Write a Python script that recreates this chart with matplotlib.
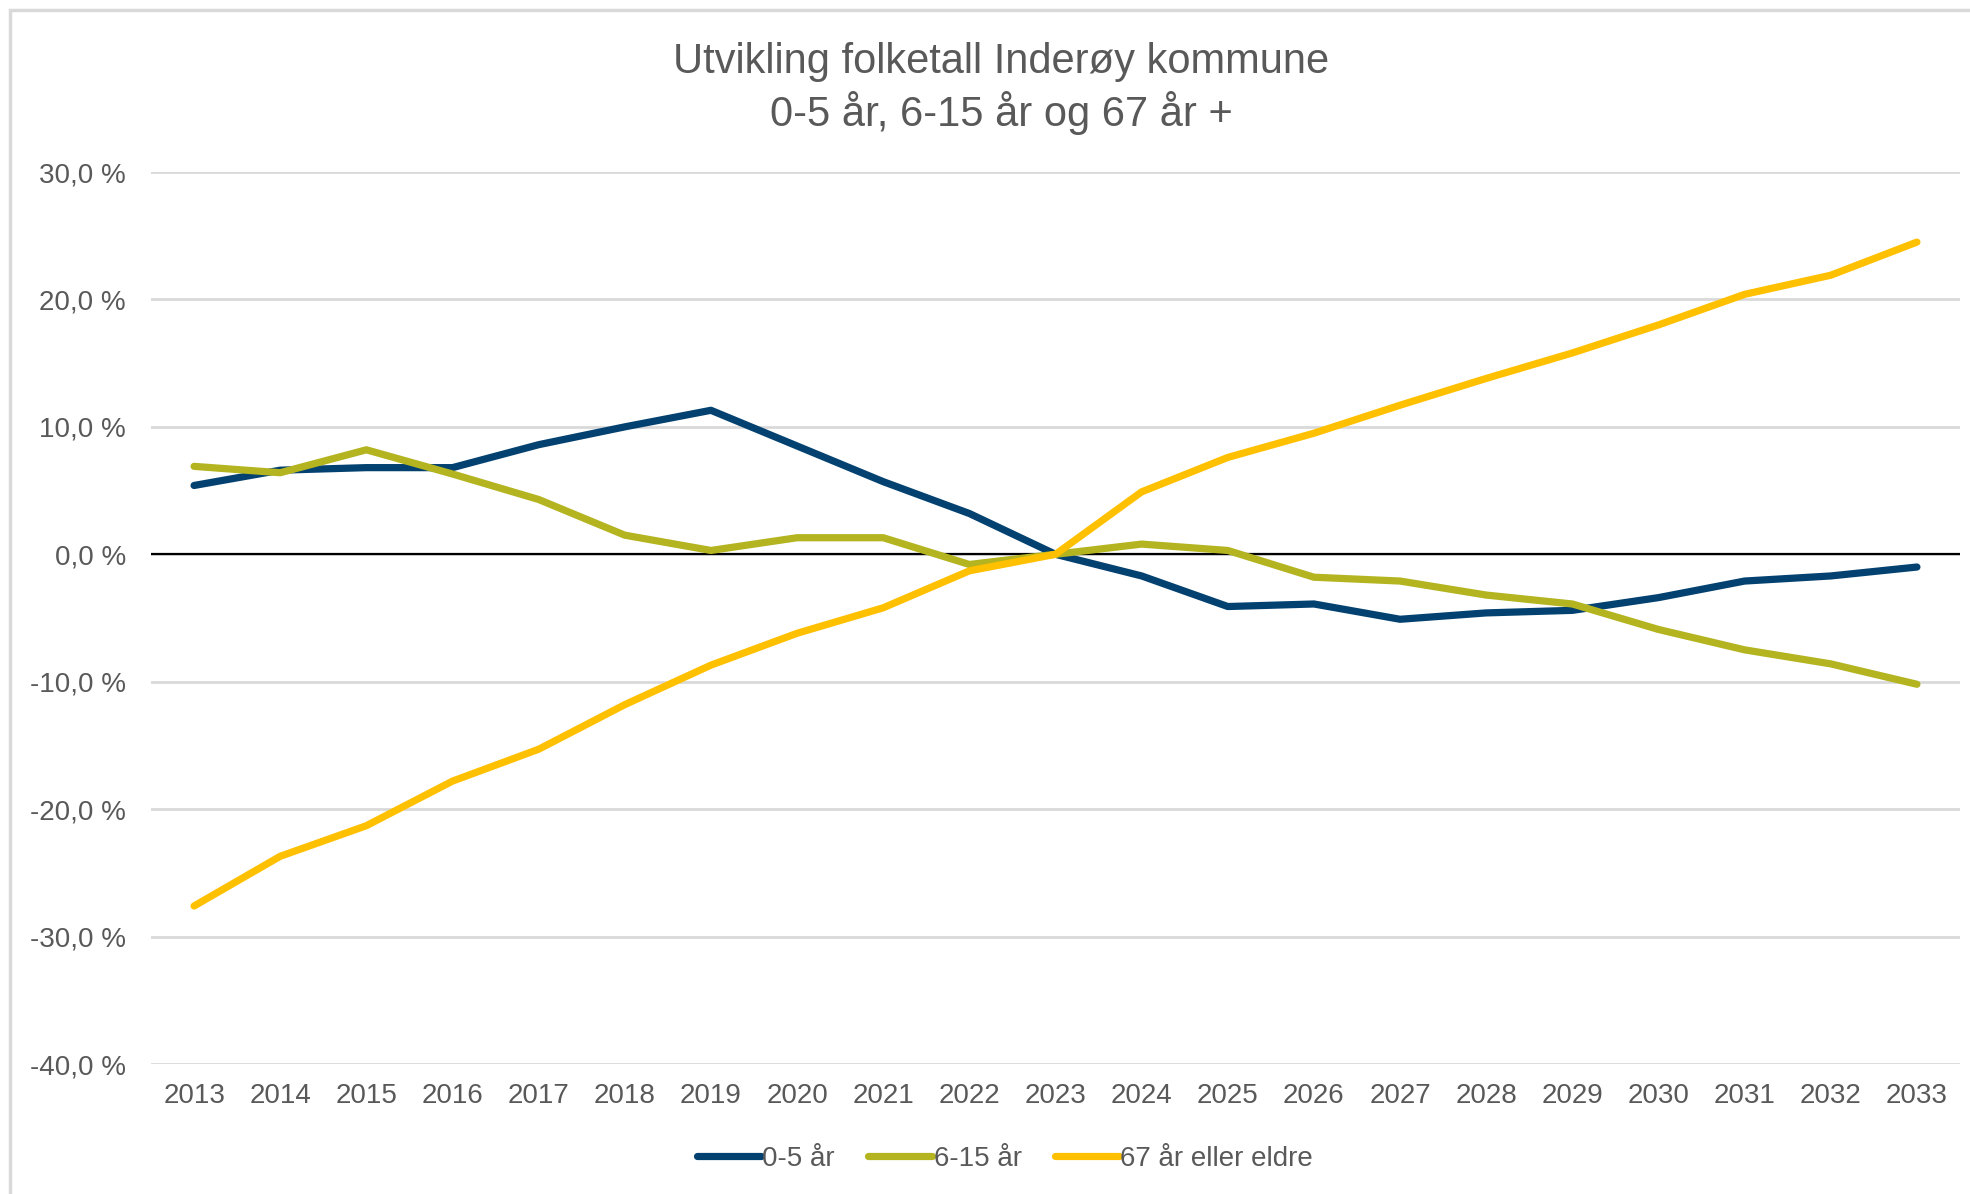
import matplotlib
matplotlib.use("Agg")
import matplotlib.pyplot as plt
from matplotlib.ticker import FuncFormatter
from matplotlib.patches import Rectangle

years = [str(y) for y in range(2013, 2034)]
barn_0_5 = [5.4, 6.6, 6.8, 6.8, 8.6, 10.0, 11.3, 8.5, 5.7, 3.2, 0.0,
            -1.7, -4.1, -3.9, -5.1, -4.6, -4.4, -3.4, -2.1, -1.7, -1.0]
barn_6_15 = [6.9, 6.4, 8.2, 6.3, 4.3, 1.5, 0.3, 1.3, 1.3, -0.8, 0.0,
             0.8, 0.3, -1.8, -2.1, -3.2, -3.9, -5.9, -7.5, -8.6, -10.2]
eldre_67 = [-27.6, -23.7, -21.3, -17.8, -15.3, -11.8, -8.7, -6.2, -4.2, -1.3, 0.0,
            4.9, 7.6, 9.5, 11.7, 13.8, 15.8, 18.0, 20.4, 21.9, 24.5]
serie_navn = ["0-5 år", "6-15 år", "67 år eller eldre"]
farger = ["#034170", "#b3b41f", "#ffc000"]
yticks = [-40, -30, -20, -10, 0, 10, 20, 30]

plt.rcParams['font.family'] = ['Liberation Sans', 'DejaVu Sans']
grey = "#595959"

fig = plt.figure(figsize=(19.7, 11.94), dpi=100)
ax = fig.add_axes([151/1970, 1 - 1064/1194, (1960-151)/1970, (1064-172)/1194])

# ramme rundt hele figuren
fig.patches.append(Rectangle((10/1970, -0.05), 1.1, 1 - 10/1194 + 0.05,
                             transform=fig.transFigure, fill=False,
                             edgecolor="#d9d9d9", linewidth=2.5, clip_on=False))

x = range(len(years))
for data, navn, c in zip([barn_0_5, barn_6_15, eldre_67], serie_navn, farger):
    ax.plot(x, data, color=c, linewidth=5.2, label=navn, solid_capstyle='round', zorder=3)

ax.axhline(0, color="black", linewidth=1.6, zorder=2)
ax.set_ylim(-40, 30)
ax.set_xlim(-0.5, len(years) - 0.5)
ax.set_yticks(yticks)
ax.yaxis.set_major_formatter(FuncFormatter(lambda v, p: ("%.1f %%" % v).replace(".", ",")))
ax.set_xticks(list(x))
ax.set_xticklabels(years)
ax.grid(axis='y', color="#d9d9d9", linewidth=2)
ax.set_axisbelow(True)
for s in ax.spines.values():
    s.set_visible(False)
ax.tick_params(axis='both', length=0, labelsize=20, labelcolor=grey)
ax.tick_params(axis='y', pad=18)
ax.tick_params(axis='x', pad=14)

fig.text(1001/1970, 1 - 62/1194, "Utvikling folketall Inderøy kommune", ha='center', va='center',
         fontsize=30, color=grey)
fig.text(1001/1970, 1 - 113/1194, "0-5 år, 6-15 år og 67 år +", ha='center', va='center',
         fontsize=30, color=grey)

fig.legend(loc='center', bbox_to_anchor=(1005/1970, 35/1194), ncol=3, frameon=False,
           fontsize=20, labelcolor=grey, handlelength=2.3, handletextpad=0.05,
           columnspacing=1.2)

fig.savefig("out.png", dpi=100)
